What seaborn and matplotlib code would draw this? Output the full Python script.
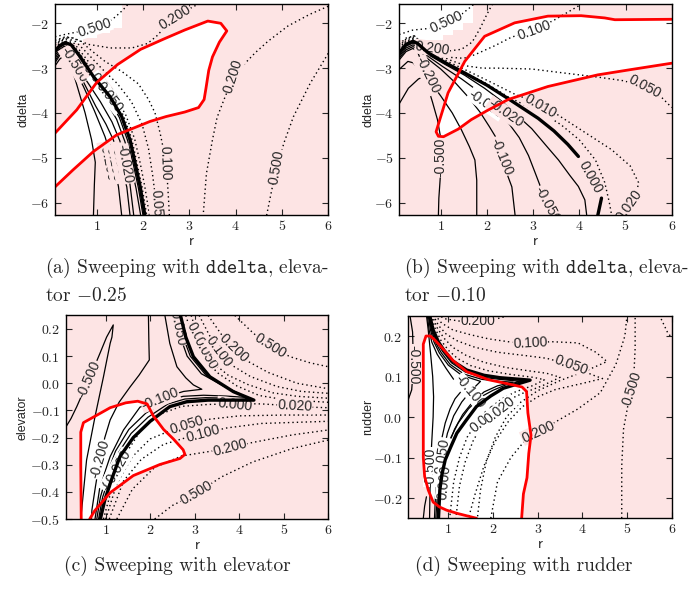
import matplotlib
matplotlib.use("Agg")
import matplotlib.pyplot as plt
from matplotlib.path import Path
import numpy as np
import pandas as pd
import seaborn as sns

PINK = "#fde4e4"

# ---------------- axis settings ----------------
R_LIM = (0.1, 6.0)
R_TICKS = [1, 2, 3, 4, 5, 6]
DDELTA_LIM = (-2 * np.pi, -np.pi / 2)
DDELTA_TICKS = [-6, -5, -4, -3, -2]
ELEV_LIM = (-0.5, 0.25)
ELEV_TICKS = [-0.5, -0.4, -0.3, -0.2, -0.1, 0.0, 0.1, 0.2]
RUD_LIM = (-0.25, 0.25)
RUD_TICKS = [-0.2, -0.1, 0.0, 0.1, 0.2]

# ================= (a) ddelta sweep, elevator -0.25 =================
A_FEASIBLE = [(0.1, -4.45), (0.57, -3.93), (1.0, -3.32), (1.45, -2.92), (1.95, -2.58),
              (2.45, -2.35), (2.9, -2.15), (3.4, -1.95), (3.68, -2.0), (3.81, -2.17),
              (3.65, -2.42), (3.5, -2.75), (3.42, -3.05), (3.36, -3.45), (3.32, -3.7),
              (3.2, -3.88), (2.9, -3.98), (2.5, -4.08), (2.15, -4.19), (1.43, -4.49),
              (0.93, -4.86), (0.49, -5.27), (0.1, -5.65)]
A_WHITE_BLOCK = [(0.1, -1.571), (1.54, -1.571), (1.54, -2.11), (1.29, -2.11), (1.29, -2.22),
                 (1.0, -2.22), (1.0, -2.33), (0.71, -2.33), (0.71, -2.45), (0.1, -2.45)]
A_ZERO = [(0.10, -2.62), (0.20, -2.50), (0.32, -2.43), (0.45, -2.48), (0.64, -2.74), (0.93, -3.19),
          (1.29, -3.64), (1.54, -4.08), (1.72, -4.60), (1.83, -5.12), (1.94, -5.65), (2.04, -6.283)]
A_NEG010 = [(0.10, -2.67), (0.20, -2.54), (0.31, -2.47), (0.43, -2.52), (0.61, -2.77), (0.89, -3.21),
            (1.24, -3.66), (1.49, -4.10), (1.67, -4.62), (1.79, -5.14), (1.90, -5.67), (2.00, -6.283)]
A_NEG020 = [(0.10, -2.72), (0.20, -2.58), (0.30, -2.51), (0.41, -2.56), (0.57, -2.80), (0.84, -3.24),
            (1.18, -3.70), (1.43, -4.14), (1.61, -4.64), (1.74, -5.16), (1.85, -5.68), (1.95, -6.283)]
A_NEG050 = [(0.10, -2.78), (0.20, -2.62), (0.29, -2.55), (0.39, -2.60), (0.53, -2.84), (0.78, -3.28),
            (1.08, -3.75), (1.33, -4.20), (1.50, -4.62), (1.62, -5.10), (1.72, -5.60), (1.80, -6.283)]
A_NEG100 = [(0.10, -2.84), (0.20, -2.67), (0.28, -2.60), (0.37, -2.65), (0.50, -2.90), (0.72, -3.32),
            (0.98, -3.85), (1.20, -4.25), (1.36, -4.60), (1.50, -5.10), (1.65, -5.65), (1.72, -6.283)]
A_NEG200 = [(0.10, -2.88), (0.20, -2.72), (0.27, -2.66), (0.35, -2.72), (0.50, -3.00), (0.71, -3.40),
            (0.95, -3.95), (1.18, -4.53), (1.35, -5.10), (1.47, -5.64), (1.54, -6.283)]
A_NEG500 = [(0.10, -2.95), (0.20, -2.80), (0.26, -2.75), (0.33, -2.80), (0.45, -2.98), (0.55, -3.30),
            (0.65, -3.65), (0.75, -4.00), (0.89, -4.60), (0.97, -5.10), (0.95, -5.60), (0.93, -6.283)]
A_POS010 = [(0.10, -2.56), (0.20, -2.45), (0.32, -2.39), (0.47, -2.45), (0.68, -2.74), (0.97, -3.16),
            (1.33, -3.61), (1.58, -4.06), (1.76, -4.59), (1.87, -5.12), (1.98, -5.65), (2.08, -6.283)]
A_POS020 = [(0.10, -2.52), (0.20, -2.41), (0.33, -2.35), (0.50, -2.43), (0.72, -2.72), (1.02, -3.12),
            (1.38, -3.58), (1.63, -4.05), (1.82, -4.58), (1.94, -5.12), (2.04, -5.65), (2.14, -6.283)]
A_POS050 = [(0.10, -2.48), (0.22, -2.38), (0.35, -2.33), (0.55, -2.41), (0.80, -2.67), (1.10, -3.00),
            (1.45, -3.35), (1.75, -3.75), (1.98, -4.25), (2.12, -4.80), (2.21, -5.40), (2.27, -5.90),
            (2.30, -6.283)]
A_POS100 = [(0.10, -2.43), (0.25, -2.34), (0.40, -2.30), (0.65, -2.40), (0.90, -2.62), (1.18, -2.85),
            (1.55, -3.08), (1.90, -3.35), (2.12, -3.70), (2.26, -4.00), (2.37, -4.45), (2.45, -4.85),
            (2.52, -5.40), (2.55, -5.90), (2.57, -6.283)]
A_POS200_TOP = [(0.10, -2.38), (0.30, -2.31), (0.50, -2.33), (0.82, -2.47), (1.30, -2.55), (1.76, -2.55),
                (2.10, -2.45), (2.30, -2.28), (2.55, -2.00), (2.80, -1.80), (3.10, -1.62), (3.25, -1.55)]
A_POS500_TOP = [(0.10, -2.30), (0.35, -2.24), (0.65, -2.18), (0.96, -2.09), (1.25, -1.97),
                (1.40, -1.86), (1.57, -1.70), (1.68, -1.571)]
A_POS200_RIGHT = [(6.0, -1.62), (5.6, -1.80), (5.13, -2.06), (4.70, -2.40), (4.42, -2.66), (4.15, -2.95),
                  (3.95, -3.20), (3.75, -3.70), (3.60, -4.10), (3.50, -4.60), (3.37, -5.35), (3.30, -6.283)]
A_POS500_RIGHT = [(6.0, -2.67), (5.61, -3.34), (5.25, -4.08), (5.05, -4.65), (4.89, -5.20),
                  (4.78, -5.72), (4.67, -6.283)]
A_LABELS = [("-0.500", 0.52, -2.92, -58), ("-0.200", 1.24, -5.08, -78), ("-0.100", 1.37, -5.10, -78),
            ("-0.050", 1.49, -5.12, -78), ("-0.020", 1.60, -5.14, -80),
            ("0.010", 1.00, -3.25, -52), ("0.020", 1.14, -3.45, -52), ("0.050", 1.28, -3.65, -52),
            ("0.050", 2.29, -6.10, -86), ("0.100", 2.48, -5.12, -88), ("0.200", 2.70, -1.87, 32),
            ("0.500", 0.96, -2.10, 18), ("0.200", 3.95, -3.17, 72), ("0.500", 4.89, -5.20, 80)]

# ================= (b) ddelta sweep, elevator -0.10 =================
B_FEASIBLE = [(6.0, -1.91), (4.77, -1.92), (4.55, -1.88), (4.04, -1.83), (3.32, -1.84), (2.6, -1.99),
              (1.95, -2.29), (1.52, -2.85), (1.16, -3.55), (0.98, -4.15), (0.9, -4.42), (0.95, -4.52),
              (1.06, -4.53), (1.38, -4.36), (1.66, -4.15), (2.0, -3.95), (2.46, -3.70), (3.32, -3.41),
              (4.40, -3.15), (5.13, -3.03), (6.0, -2.89)]
B_WHITE_BLOCK = [(0.1, -1.571), (1.70, -1.571), (1.70, -2.0), (1.48, -2.0), (1.48, -2.14), (1.27, -2.14),
                 (1.27, -2.25), (1.05, -2.25), (1.05, -2.37), (0.1, -2.37)]
B_ZERO = [(0.10, -2.66), (0.25, -2.47), (0.40, -2.40), (0.50, -2.45), (0.73, -2.66), (1.10, -2.88),
          (1.52, -3.11), (2.00, -3.38), (2.46, -3.68), (3.11, -4.12), (3.45, -4.40), (3.75, -4.70),
          (3.98, -4.97)]
B_ZERO_TAIL = [(4.48, -5.90), (4.40, -6.283)]
B_NEG020 = [(0.10, -2.70), (0.25, -2.51), (0.40, -2.44), (0.50, -2.49), (0.73, -2.70), (1.10, -2.92),
            (1.52, -3.16), (1.95, -3.45), (2.30, -3.72), (2.65, -4.05), (2.97, -4.35), (3.30, -4.75),
            (3.55, -5.05), (3.80, -5.40), (3.98, -5.64), (4.12, -5.94), (4.16, -6.283)]
B_NEG050 = [(0.10, -2.74), (0.25, -2.55), (0.40, -2.48), (0.50, -2.53), (0.73, -2.74), (1.05, -2.97),
            (1.45, -3.24), (1.82, -3.52), (2.15, -3.85), (2.45, -4.20), (2.70, -4.55), (2.90, -4.95),
            (3.05, -5.35), (3.15, -5.62)]
B_NEG100 = [(0.10, -2.78), (0.25, -2.59), (0.40, -2.52), (0.50, -2.57), (0.73, -2.80), (1.00, -3.02),
            (1.31, -3.32), (1.60, -3.65), (1.85, -3.98), (2.05, -4.30), (2.18, -4.52)]
B_NEG100_TAIL = [(2.45, -5.40), (2.54, -5.65), (2.61, -6.283)]
B_NEG200 = [(0.10, -2.82), (0.25, -2.63), (0.40, -2.56), (0.50, -2.64), (0.62, -2.95), (0.77, -3.30),
            (1.00, -3.62), (1.25, -4.00), (1.45, -4.38), (1.62, -4.75), (1.74, -5.05), (1.78, -5.50),
            (1.78, -6.283)]
B_NEG500 = [(0.10, -3.80), (0.30, -3.45), (0.52, -3.24), (0.62, -3.20), (0.70, -3.35), (0.82, -3.75),
            (0.93, -4.15), (0.99, -4.50)]
B_NEG500_TAIL = [(0.99, -5.45), (0.96, -5.90), (0.95, -6.283)]
B_NEG1000 = [(0.10, -3.03), (0.29, -2.85), (0.40, -2.88), (0.51, -3.00), (0.58, -3.12)]
B_POS010 = [(0.10, -2.63), (0.25, -2.44), (0.40, -2.37), (0.52, -2.445), (0.75, -2.655), (1.10, -2.865),
            (1.52, -3.09), (2.00, -3.35), (2.46, -3.64), (2.85, -3.84), (3.20, -4.00), (3.60, -4.26),
            (4.00, -4.60), (4.35, -5.05), (4.55, -5.55), (4.65, -6.00), (4.70, -6.283)]
B_POS020 = [(0.10, -2.60), (0.25, -2.41), (0.40, -2.34), (0.54, -2.44), (0.78, -2.645), (1.15, -2.85),
            (1.60, -3.07), (2.10, -3.32), (2.60, -3.58), (3.00, -3.74), (3.50, -4.02), (4.10, -4.42),
            (4.70, -4.82), (5.10, -5.18), (5.28, -5.55), (5.25, -5.75), (5.10, -6.00), (4.95, -6.20),
            (4.90, -6.283)]
B_POS050 = [(0.10, -2.56), (0.25, -2.38), (0.41, -2.31), (0.56, -2.43), (0.82, -2.63), (1.20, -2.82),
            (1.55, -2.95), (1.90, -3.00), (2.24, -3.00), (2.97, -3.02), (3.60, -3.10), (4.40, -3.20),
            (4.95, -3.28), (5.42, -3.42), (5.75, -3.62), (6.00, -3.88)]
B_POS100 = [(0.10, -2.52), (0.25, -2.35), (0.42, -2.28), (0.58, -2.42), (0.85, -2.60), (1.20, -2.76),
            (1.50, -2.78), (1.74, -2.70), (2.17, -2.50), (2.53, -2.31), (3.03, -2.15), (3.47, -1.92),
            (3.97, -1.62), (4.05, -1.571)]
B_POS200 = [(0.10, -2.47), (0.25, -2.33), (0.43, -2.28), (0.60, -2.45), (0.81, -2.56), (1.15, -2.62),
            (1.45, -2.58), (1.68, -2.42), (1.85, -2.12), (2.00, -1.80), (2.12, -1.571)]
B_POS500 = [(0.10, -2.25), (0.40, -2.15), (0.70, -2.12), (1.12, -1.98), (1.45, -1.80), (1.62, -1.66),
            (1.72, -1.571)]
B_LABELS = [("0.500", 1.12, -1.98, 25), ("0.200", 0.82, -2.56, -8), ("-0.200", 0.71, -3.16, -64),
            ("0.100", 3.03, -2.16, 20), ("0.050", 5.42, -3.41, -28), ("0.010", 3.17, -3.86, -30),
            ("-0.050", 1.98, -3.80, -35), ("-0.020", 2.40, -4.00, -35), ("-0.500", 1.00, -4.98, 90),
            ("-0.100", 2.32, -4.97, -68), ("-0.050", 3.30, -6.05, -62), ("0.000", 4.23, -5.43, -61),
            ("0.020", 5.08, -6.06, 55)]

# ================= (c) elevator sweep =================
C_FEASIBLE = [(0.45, -0.5), (0.44, -0.3), (0.44, -0.18), (0.5, -0.145), (0.72, -0.125), (1.1, -0.09),
              (1.45, -0.072), (1.72, -0.066), (1.93, -0.076), (2.07, -0.12), (2.3, -0.17), (2.52, -0.205),
              (2.74, -0.245), (2.78, -0.262), (2.67, -0.277), (2.22, -0.299), (1.62, -0.34), (1.1, -0.403),
              (0.75, -0.47), (0.64, -0.5)]
C_ZERO = [(2.68, 0.25), (2.80, 0.17), (2.97, 0.098), (3.34, 0.024), (3.87, -0.031), (4.33, -0.062),
          (3.87, -0.062), (3.30, -0.062), (2.82, -0.068), (2.44, -0.086), (2.00, -0.14), (1.62, -0.20),
          (1.32, -0.27), (1.12, -0.36), (0.98, -0.43), (0.88, -0.5)]
C_NEG020 = [(2.62, 0.25), (2.74, 0.17), (2.90, 0.10), (3.25, 0.03), (3.80, -0.022), (4.25, -0.058),
            (3.80, -0.055), (3.25, -0.053), (2.78, -0.058), (2.40, -0.076), (1.95, -0.125), (1.57, -0.185),
            (1.27, -0.26), (1.07, -0.35), (0.93, -0.42), (0.84, -0.5)]
C_NEG050 = [(2.56, 0.25), (2.68, 0.17), (2.83, 0.10), (3.15, 0.035), (3.70, -0.015), (4.15, -0.052),
            (3.70, -0.047), (3.20, -0.044), (2.74, -0.048), (2.35, -0.066), (1.90, -0.11), (1.52, -0.17),
            (1.22, -0.25), (1.02, -0.34), (0.88, -0.42), (0.80, -0.5)]
C_NEG100 = [(2.33, 0.25), (2.44, 0.147), (2.60, 0.061), (2.80, 0.02), (2.97, -0.006), (3.16, -0.022),
            (2.75, -0.03), (2.45, -0.045), (2.20, -0.06), (1.95, -0.075), (1.77, -0.088), (1.40, -0.172),
            (1.10, -0.27), (0.87, -0.381), (0.76, -0.5)]
C_NEG200 = [(1.96, 0.25), (1.97, 0.15), (1.98, 0.086), (1.75, 0.03), (1.55, -0.013), (1.30, -0.07),
            (1.10, -0.135), (0.98, -0.20), (0.87, -0.28), (0.77, -0.38), (0.69, -0.467), (0.68, -0.5)]
C_NEG500 = [(0.12, -0.157), (0.22, -0.13), (0.35, -0.086), (0.50, -0.03), (0.65, 0.024), (0.87, 0.110),
            (1.02, 0.17), (1.17, 0.215), (1.14, 0.17), (1.10, 0.147), (0.95, 0.024), (0.76, -0.123),
            (0.57, -0.283), (0.44, -0.5)]
C_UP020 = [(2.80, 0.25), (2.93, 0.18), (3.20, 0.10), (3.50, 0.04), (3.95, -0.01), (4.45, -0.045),
           (5.00, -0.06), (6.00, -0.07)]
C_UP050 = [(2.92, 0.25), (3.08, 0.17), (3.25, 0.11), (3.45, 0.07), (3.75, 0.03), (4.20, -0.005),
           (4.75, -0.035), (5.30, -0.048), (6.00, -0.055)]
C_UP100 = [(3.10, 0.25), (3.32, 0.18), (3.55, 0.115), (3.80, 0.07), (4.25, 0.025), (4.85, -0.012),
           (5.40, -0.03), (6.00, -0.037)]
C_UP200 = [(3.30, 0.25), (3.60, 0.18), (3.88, 0.128), (4.15, 0.085), (4.65, 0.04), (5.30, 0.0),
           (6.00, -0.02)]
C_UP500 = [(3.90, 0.25), (4.32, 0.184), (4.69, 0.137), (5.14, 0.098), (5.60, 0.075), (6.00, 0.061)]
C_LO020 = [(0.95, -0.5), (1.15, -0.38), (1.45, -0.26), (1.80, -0.17), (2.20, -0.115), (2.70, -0.085),
           (3.30, -0.078), (4.00, -0.075), (4.50, -0.076), (4.90, -0.08), (5.25, -0.084), (5.60, -0.088),
           (6.00, -0.09)]
C_LO050 = [(1.00, -0.5), (1.25, -0.37), (1.60, -0.27), (2.00, -0.205), (2.40, -0.178), (2.82, -0.155),
           (3.30, -0.133), (4.00, -0.12), (5.00, -0.117), (6.00, -0.117)]
C_LO100 = [(1.08, -0.5), (1.40, -0.36), (1.80, -0.28), (2.30, -0.225), (2.75, -0.203), (3.19, -0.186),
           (3.70, -0.165), (4.50, -0.148), (6.00, -0.14)]
C_LO200 = [(1.25, -0.5), (1.60, -0.39), (2.10, -0.31), (2.70, -0.268), (3.30, -0.252), (3.79, -0.238),
           (4.30, -0.218), (5.20, -0.19), (6.00, -0.172)]
C_LO500 = [(2.10, -0.5), (2.50, -0.45), (3.04, -0.405), (3.60, -0.345), (4.30, -0.29), (5.20, -0.24),
           (6.00, -0.209)]
C_LABELS = [("-0.500", 0.62, 0.015, 66), ("-0.200", 0.87, -0.28, 74), ("-0.100", 2.22, -0.058, 22),
            ("-0.050", 2.61, 0.21, -78), ("0.020", 3.08, 0.165, -62), ("0.050", 3.25, 0.11, -61),
            ("0.100", 3.55, 0.115, -54), ("0.200", 3.88, 0.128, -44), ("0.500", 4.69, 0.137, -32),
            ("0.000", 3.90, -0.08, -6), ("0.020", 5.25, -0.084, -3), ("0.050", 2.82, -0.155, 17),
            ("0.100", 3.19, -0.186, 15), ("0.200", 3.79, -0.238, 15), ("0.500", 3.04, -0.405, 30),
            ("-0.050", 1.18, -0.33, 62), ("-0.020", 1.28, -0.31, 60)]

# ================= (d) rudder sweep =================
D_FEASIBLE = [(1.63, -0.25), (1.2, -0.238), (0.96, -0.23), (0.8, -0.222), (0.66, -0.21), (0.55, -0.18),
              (0.47, -0.147), (0.44, -0.1), (0.44, 0.05), (0.44, 0.18), (0.5, 0.2), (0.6, 0.2), (0.7, 0.19),
              (0.85, 0.172), (1.1, 0.14), (1.41, 0.112), (1.9, 0.092), (2.46, 0.079), (2.65, 0.074),
              (2.75, 0.063), (2.78, 0.01), (2.85, -0.045), (2.8, -0.09), (2.76, -0.15), (2.68, -0.19),
              (2.64, -0.25)]
D_ZERO = [(0.58, 0.252), (0.66, 0.215), (0.78, 0.185), (0.90, 0.165), (1.10, 0.138), (1.41, 0.116),
          (1.80, 0.103), (2.16, 0.097), (2.50, 0.094), (2.83, 0.091), (2.50, 0.080), (2.23, 0.071),
          (1.95, 0.052), (1.63, 0.026), (1.40, -0.008), (1.19, -0.04), (1.05, -0.075), (0.93, -0.106),
          (0.86, -0.14), (0.81, -0.18), (0.78, -0.25)]
D_NEG020 = [(0.57, 0.252), (0.64, 0.215), (0.75, 0.184), (0.87, 0.162), (1.07, 0.134), (1.38, 0.111),
            (1.78, 0.098), (2.15, 0.093), (2.62, 0.088), (2.30, 0.080), (2.00, 0.066), (1.70, 0.048),
            (1.45, 0.02), (1.22, -0.015), (1.06, -0.05), (0.95, -0.09), (0.87, -0.13), (0.80, -0.18),
            (0.77, -0.25)]
D_NEG050 = [(0.56, 0.252), (0.62, 0.215), (0.72, 0.183), (0.84, 0.159), (1.04, 0.13), (1.35, 0.106),
            (1.75, 0.093), (2.15, 0.088), (2.45, 0.086), (2.10, 0.077), (1.80, 0.062), (1.55, 0.038),
            (1.32, 0.006), (1.14, -0.03), (1.00, -0.07), (0.90, -0.115), (0.83, -0.16), (0.78, -0.20),
            (0.75, -0.25)]
D_NEG100 = [(0.55, 0.252), (0.60, 0.215), (0.68, 0.185), (0.80, 0.158), (1.00, 0.128), (1.30, 0.103),
            (1.72, 0.088), (1.50, 0.064), (1.30, 0.037), (1.12, 0.003), (0.98, -0.04), (0.88, -0.09),
            (0.80, -0.15), (0.75, -0.20), (0.72, -0.25)]
D_NEG200 = [(0.53, 0.252), (0.57, 0.215), (0.63, 0.185), (0.75, 0.155), (0.95, 0.12), (1.15, 0.088),
            (1.30, 0.065), (1.15, 0.045), (1.04, 0.02), (0.93, -0.015), (0.85, -0.055), (0.79, -0.10),
            (0.75, -0.15), (0.71, -0.20), (0.69, -0.25)]
D_NEG500_IN = [(0.51, 0.252), (0.55, 0.215), (0.60, 0.16), (0.65, 0.10), (0.67, 0.05), (0.66, 0.0),
               (0.63, -0.06), (0.60, -0.123), (0.59, -0.18), (0.58, -0.25)]
D_NEG500_LEFT = [(0.14, 0.252), (0.20, 0.21), (0.22, 0.124), (0.18, 0.067), (0.10, 0.042)]
D_NEG500_LOW = [(0.44, -0.25), (0.47, -0.22), (0.51, -0.197)]
D_POS010 = [(0.61, 0.252), (0.70, 0.22), (0.83, 0.19), (1.00, 0.165), (1.20, 0.145), (1.50, 0.127),
            (1.90, 0.114), (2.40, 0.105), (2.90, 0.098), (3.15, 0.092), (2.90, 0.078), (2.50, 0.062),
            (2.20, 0.045), (1.90, 0.02), (1.65, -0.012), (1.42, -0.05), (1.25, -0.10), (1.12, -0.16),
            (1.03, -0.25)]
D_POS020 = [(0.635, 0.252), (0.74, 0.222), (0.90, 0.195), (1.10, 0.172), (1.40, 0.152), (1.80, 0.135),
            (2.30, 0.122), (2.80, 0.114), (3.20, 0.108), (3.50, 0.098), (3.10, 0.077), (2.65, 0.058),
            (2.30, 0.04), (2.00, 0.015), (1.75, -0.02), (1.55, -0.06), (1.38, -0.11), (1.25, -0.17),
            (1.17, -0.25)]
D_POS050 = [(0.66, 0.252), (0.78, 0.226), (0.95, 0.205), (1.20, 0.188), (1.60, 0.172), (2.10, 0.16),
            (2.70, 0.152), (3.20, 0.145), (3.76, 0.128), (4.20, 0.105), (4.45, 0.095), (4.00, 0.083),
            (3.40, 0.068), (3.00, 0.05), (2.65, 0.025), (2.35, -0.01), (2.05, -0.06), (1.80, -0.12),
            (1.60, -0.19), (1.45, -0.25)]
D_POS100 = [(0.70, 0.252), (0.85, 0.232), (1.10, 0.215), (1.50, 0.203), (1.90, 0.193), (2.40, 0.185),
            (2.83, 0.182), (3.30, 0.186), (3.90, 0.183), (4.30, 0.16), (4.55, 0.137), (4.10, 0.115),
            (3.50, 0.09), (3.00, 0.065), (2.60, 0.035), (2.30, 0.0), (2.05, -0.05), (1.85, -0.11),
            (1.72, -0.18), (1.65, -0.25)]
D_POS200_TOP = [(0.75, 0.252), (0.95, 0.242), (1.30, 0.236), (1.67, 0.236), (2.10, 0.243), (2.40, 0.252)]
D_POS200_LOW = [(1.95, -0.25), (2.10, -0.16), (2.40, -0.10), (2.70, -0.06), (3.01, -0.036),
                (3.40, -0.012), (3.90, 0.02), (4.40, 0.06), (4.75, 0.13), (4.95, 0.20), (5.00, 0.252)]
D_POS500 = [(4.88, -0.25), (4.88, -0.12), (4.92, -0.03), (5.02, 0.03), (5.15, 0.10), (5.18, 0.17),
            (5.18, 0.252)]
D_POS500_CORNER = [(5.72, 0.252), (5.90, 0.21), (6.00, 0.195)]
D_LABELS = [("-0.500", 0.22, 0.13, -90), ("0.200", 1.67, 0.236, 0), ("0.100", 2.83, 0.182, 3),
            ("0.050", 3.76, 0.128, -20), ("-0.100", 1.49, 0.062, -50), ("0.010", 1.82, -0.005, 40),
            ("0.020", 2.16, 0.018, 38), ("0.200", 3.01, -0.036, 25), ("0.500", 5.12, 0.07, 72),
            ("-0.500", 0.60, -0.123, 90), ("-0.050", 0.86, -0.10, 82), ("0.000", 0.90, -0.16, 84)]

DOTS = (0, (1.0, 2.2))


def trace(ax, pts, **style):
    frame = pd.DataFrame(pts, columns=["r", "v"])
    sns.lineplot(data=frame, x="r", y="v", sort=False, estimator=None, errorbar=None,
                 ax=ax, legend=False, **style)


def draw_panel(ax, whites, solids, thick, dotted, red, labels, ylim, yticks, ylabel, ylab_x, decimals):
    ax.set_facecolor(PINK)
    for poly in whites:
        xs, ys = zip(*poly)
        ax.fill(xs, ys, color="white", lw=0, zorder=0.5)
    for pts in dotted:
        trace(ax, pts, color="black", linewidth=1.0, linestyle=DOTS, zorder=2)
    for pts in solids:
        trace(ax, pts, color="black", linewidth=0.9, zorder=2.2)
    # the zero level stays visible across the labels, as with stacked contour labels
    for pts in thick:
        trace(ax, pts, color="black", linewidth=2.4, zorder=4.5, solid_capstyle="round")
    trace(ax, red, color="red", linewidth=2.0, zorder=5)
    paths = [Path(p) for p in whites]
    for text, x, y, rot in labels:
        bg = "white" if any(p.contains_point((x, y)) for p in paths) else PINK
        ax.text(x, y, text, rotation=rot, rotation_mode="anchor", ha="center", va="center",
                fontsize=10, family=["Liberation Sans", "DejaVu Sans"], zorder=4, clip_on=True,
                bbox=dict(boxstyle="square,pad=0.03", fc=bg, ec="none"))
    ax.set_xlim(*R_LIM)
    ax.set_ylim(*ylim)
    ax.set_xticks(R_TICKS)
    ax.set_xticklabels([f"${t}$" for t in R_TICKS])
    ax.set_yticks(yticks)
    ax.set_yticklabels([f"${t:.{decimals}f}$" for t in yticks])
    ax.tick_params(direction="in", length=4, width=0.8, top=True, right=True, labelsize=10)
    ax.tick_params(axis="x", pad=3)
    ax.tick_params(axis="y", pad=4)
    for s in ax.spines.values():
        s.set_linewidth(1.0)
        s.set_color("black")
        s.set_zorder(6)
    ax.set_xlabel(r"$\mathsf{r}$", fontsize=10.5)
    ax.set_ylabel(ylabel, fontsize=9)
    ax.yaxis.set_label_coords(ylab_x, 0.5)
    # place the x label a fixed 19 px under the frame
    height_px = ax.get_position().height * fig.get_figheight() * fig.dpi
    ax.xaxis.set_label_coords(0.5, -19.0 / height_px)


sns.set_theme(style="ticks")
plt.rcParams["font.family"] = ["Liberation Sans", "DejaVu Sans"]
plt.rcParams["mathtext.fontset"] = "cm"
plt.rcParams["axes.unicode_minus"] = True

fig = plt.figure(figsize=(6.91, 5.90), dpi=100)
ax_a = fig.add_axes([0.0796, 0.6351, 0.3954, 0.3580])
ax_b = fig.add_axes([0.5776, 0.6351, 0.3945, 0.3580])
ax_c = fig.add_axes([0.0950, 0.1203, 0.3800, 0.3451])
ax_d = fig.add_axes([0.5906, 0.1216, 0.3816, 0.3432])

draw_panel(ax_a, [A_FEASIBLE, A_WHITE_BLOCK],
           [A_NEG010, A_NEG020, A_NEG050, A_NEG100, A_NEG200, A_NEG500], [A_ZERO],
           [A_POS010, A_POS020, A_POS050, A_POS100, A_POS200_TOP, A_POS500_TOP, A_POS200_RIGHT,
            A_POS500_RIGHT],
           A_FEASIBLE, A_LABELS, DDELTA_LIM, DDELTA_TICKS, "ddelta", -0.095, 0)
draw_panel(ax_b, [B_FEASIBLE, B_WHITE_BLOCK],
           [B_NEG020, B_NEG050, B_NEG100, B_NEG100_TAIL, B_NEG200, B_NEG500, B_NEG500_TAIL, B_NEG1000],
           [B_ZERO, B_ZERO_TAIL],
           [B_POS010, B_POS020, B_POS050, B_POS100, B_POS200, B_POS500],
           B_FEASIBLE, B_LABELS, DDELTA_LIM, DDELTA_TICKS, "ddelta", -0.092, 0)
draw_panel(ax_c, [C_FEASIBLE],
           [C_NEG020, C_NEG050, C_NEG100, C_NEG200, C_NEG500], [C_ZERO],
           [C_UP020, C_UP050, C_UP100, C_UP200, C_UP500, C_LO020, C_LO050, C_LO100, C_LO200, C_LO500],
           C_FEASIBLE, C_LABELS, ELEV_LIM, ELEV_TICKS, "elevator", -0.14, 1)
draw_panel(ax_d, [D_FEASIBLE],
           [D_NEG020, D_NEG050, D_NEG100, D_NEG200, D_NEG500_IN, D_NEG500_LEFT, D_NEG500_LOW], [D_ZERO],
           [D_POS010, D_POS020, D_POS050, D_POS100, D_POS200_TOP, D_POS200_LOW, D_POS500, D_POS500_CORNER],
           D_FEASIBLE, D_LABELS, RUD_LIM, RUD_TICKS, "rudder", -0.129, 1)

cap_font = dict(family="cmr10", fontsize=14, va="center")
fig.text(45 / 691, 1 - 268 / 590, r"(a) Sweeping with $\mathtt{ddelta}$, eleva-", ha="left", **cap_font)
fig.text(45 / 691, 1 - 296 / 590, r"tor $-0.25$", ha="left", **cap_font)
fig.text(404 / 691, 1 - 268 / 590, r"(b) Sweeping with $\mathtt{ddelta}$, eleva-", ha="left", **cap_font)
fig.text(404 / 691, 1 - 296 / 590, r"tor $-0.10$", ha="left", **cap_font)
fig.text(177 / 691, 1 - 566 / 590, "(c) Sweeping with elevator", ha="center", **cap_font)
fig.text(524 / 691, 1 - 566 / 590, "(d) Sweeping with rudder", ha="center", **cap_font)

fig.savefig("out.png", dpi=100)
